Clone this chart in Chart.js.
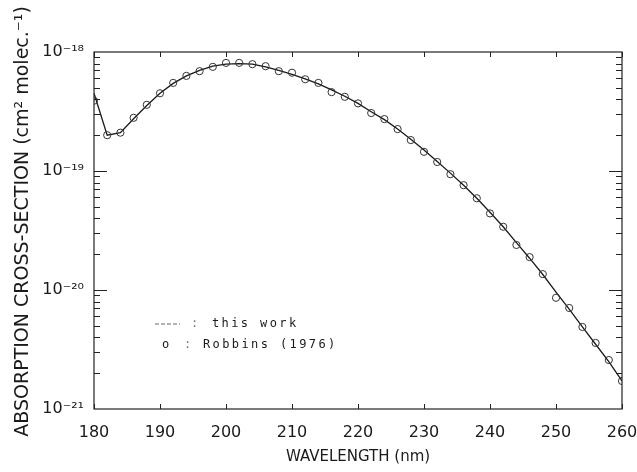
<!DOCTYPE html>
<html>
<head>
<meta charset="utf-8">
<script src="https://cdn.jsdelivr.net/npm/chart.js@4"></script>
<style>
  html, body { margin: 0; padding: 0; background: #fff; }
  #wrap { width: 637px; height: 472px; position: relative; }
</style>
</head>
<body>
<div id="wrap"><canvas id="c" width="637" height="472"></canvas></div>
<script>
// ---- data ----
const wavelengths = [180,182,184,186,188,190,192,194,196,198,200,202,204,206,208,210,212,214,216,218,220,
                     222,224,226,228,230,232,234,236,238,240,242,244,246,248,250,252,254,256,258,260];
const thisWork = [4.5e-19,2.0e-19,2.1e-19,2.75e-19,3.55e-19,4.5e-19,5.45e-19,6.3e-19,7.0e-19,7.6e-19,7.9e-19,
                  8.0e-19,7.9e-19,7.5e-19,7.0e-19,6.5e-19,5.95e-19,5.4e-19,4.8e-19,4.25e-19,3.7e-19,
                  3.15e-19,2.7e-19,2.25e-19,1.85e-19,1.5e-19,1.2e-19,9.6e-20,7.6e-20,5.9e-20,4.5e-20,
                  3.4e-20,2.5e-20,1.85e-20,1.35e-20,9.6e-21,6.9e-21,4.9e-21,3.5e-21,2.5e-21,1.72e-21];
const robbins1976 = [3.9e-19,2.0e-19,2.1e-19,2.8e-19,3.6e-19,4.5e-19,5.5e-19,6.3e-19,6.9e-19,7.5e-19,8.1e-19,
                     8.1e-19,7.9e-19,7.6e-19,6.9e-19,6.7e-19,5.9e-19,5.5e-19,4.6e-19,4.2e-19,3.7e-19,
                     3.07e-19,2.73e-19,2.25e-19,1.82e-19,1.45e-19,1.19e-19,9.4e-20,7.6e-20,5.9e-20,4.4e-20,
                     3.4e-20,2.39e-20,1.89e-20,1.36e-20,8.6e-21,7.06e-21,4.89e-21,3.59e-21,2.58e-21,1.72e-21];
const xTickValues = [180,190,200,210,220,230,240,250,260];
const yTickValues = [1e-21,1e-20,1e-19,1e-18];
const yTickLabels = ['10\u207B\u00B2\u00B9','10\u207B\u00B2\u2070','10\u207B\u00B9\u2079','10\u207B\u00B9\u2078'];
const legendLabels = ['this work','Robbins (1976)'];
const xTitle = 'WAVELENGTH (nm)';
const yTitle = 'ABSORPTION CROSS-SECTION (cm\u00B2 molec.\u207B\u00B9)';

const FONT = '"DejaVu Sans", sans-serif';
const INK = '#1a1a1a';

const framePlugin = {
  id: 'frame',
  afterDatasetsDraw(chart) {
    const {ctx, chartArea: a, scales: {x, y}} = chart;
    ctx.save();
    ctx.strokeStyle = '#222';
    ctx.lineWidth = 1.2;
    ctx.strokeRect(a.left, a.top, a.right - a.left, a.bottom - a.top);
    ctx.lineWidth = 1;
    ctx.beginPath();
    // x ticks, inward on bottom and top
    xTickValues.forEach(v => {
      const px = Math.round(x.getPixelForValue(v)) + 0.5;
      ctx.moveTo(px, a.bottom); ctx.lineTo(px, a.bottom - 5);
      ctx.moveTo(px, a.top); ctx.lineTo(px, a.top + 5);
    });
    // y ticks, log minor/major, inward on left and right
    for (let e = -21; e <= -19; e++) {
      for (let m = 1; m <= 9; m++) {
        if (m === 1 && e === -21) continue;
        const v = m * Math.pow(10, e);
        const py = Math.round(y.getPixelForValue(v)) + 0.5;
        const len = (m === 1) ? 13 : 6;
        ctx.moveTo(a.left, py); ctx.lineTo(a.left + len, py);
        ctx.moveTo(a.right, py); ctx.lineTo(a.right - len, py);
      }
    }
    ctx.stroke();

    // legend
    const lx = a.left, ly = a.top;
    ctx.fillStyle = INK;
    ctx.font = '12px "DejaVu Sans Mono", monospace';
    try { ctx.letterSpacing = '2.4px'; } catch (e) {}
    ctx.textBaseline = 'middle';
    ctx.textAlign = 'left';
    const r1 = ly + 272, r2 = ly + 293;
    ctx.save();
    ctx.strokeStyle = '#9a9a9a';
    ctx.lineWidth = 1.5;
    ctx.setLineDash([4, 2]);
    ctx.beginPath();
    ctx.moveTo(lx + 61, r1); ctx.lineTo(lx + 86, r1);
    ctx.stroke();
    ctx.restore();
    ctx.fillStyle = '#777';
    ctx.fillText(':', lx + 97, r1);
    ctx.fillStyle = INK;
    ctx.fillText(legendLabels[0], lx + 118, r1);
    ctx.fillText('o', lx + 68, r2);
    ctx.fillStyle = '#777';
    ctx.fillText(':', lx + 90, r2);
    ctx.fillStyle = INK;
    ctx.fillText(legendLabels[1], lx + 109, r2);
    ctx.restore();
  }
};

new Chart(document.getElementById('c'), {
  type: 'scatter',
  data: {
    datasets: [
      {
        label: legendLabels[0],
        data: wavelengths.map((w, i) => ({x: w, y: thisWork[i]})),
        showLine: true,
        borderColor: INK,
        borderWidth: 1.3,
        pointRadius: 0,
        tension: 0,
        order: 2
      },
      {
        label: legendLabels[1],
        data: wavelengths.map((w, i) => ({x: w, y: robbins1976[i]})),
        showLine: false,
        pointStyle: 'circle',
        pointRadius: 3.6,
        pointBorderWidth: 1,
        pointBorderColor: '#333',
        pointBackgroundColor: 'rgba(255,255,255,0)',
        order: 1
      }
    ]
  },
  plugins: [framePlugin],
  options: {
    responsive: false,
    animation: false,
    layout: { padding: { left: 0, right: 15, top: 52, bottom: 0 } },
    plugins: { legend: { display: false }, tooltip: { enabled: false } },
    scales: {
      x: {
        type: 'linear',
        min: 180, max: 260,
        afterBuildTicks: s => { s.ticks = xTickValues.map(v => ({value: v})); },
        afterFit: s => { s.height = 63; s.paddingLeft = 0; s.paddingRight = 0; },
        grid: { display: false, drawTicks: false },
        border: { display: false },
        ticks: { color: INK, font: { family: FONT, size: 16 }, padding: 14, maxRotation: 0 },
        title: { display: true, text: xTitle, color: INK, font: { family: FONT, size: 15 }, padding: { top: 0, bottom: 6 } }
      },
      y: {
        type: 'logarithmic',
        min: 1e-21, max: 1e-18,
        afterBuildTicks: s => { s.ticks = yTickValues.map(v => ({value: v})); },
        afterFit: s => { s.width = 94; s.paddingTop = 0; s.paddingBottom = 0; },
        grid: { display: false, drawTicks: false },
        border: { display: false },
        ticks: {
          color: INK, font: { family: FONT, size: 16 }, padding: 10,
          callback: (v) => { const i = yTickValues.findIndex(t => Math.abs(Math.log10(t) - Math.log10(v)) < 1e-6); return i >= 0 ? yTickLabels[i] : ''; }
        },
        title: { display: true, text: '   ' + yTitle, color: INK, font: { family: FONT, size: 19 }, padding: { top: 12, bottom: 0 } }
      }
    }
  }
});
</script>
</body>
</html>
